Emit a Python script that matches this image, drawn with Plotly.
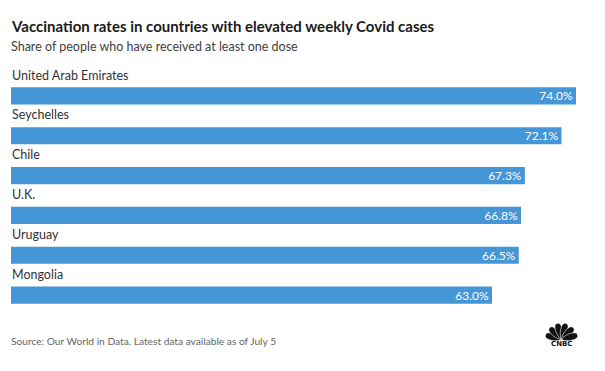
import math
import plotly.graph_objects as go

countries = ["United Arab Emirates", "Seychelles", "Chile", "U.K.", "Uruguay", "Mongolia"]
values = [74.0, 72.1, 67.3, 66.8, 66.5, 63.0]
value_labels = ["74.0%", "72.1%", "67.3%", "66.8%", "66.5%", "63.0%"]

title = "Vaccination rates in countries with elevated weekly Covid cases"
subtitle = "Share of people who have received at least one dose"
source = "Source: Our World in Data. Latest data available as of July 5"

W, H = 605, 371
L, R, T, B = 11, 15, 75.5, 55.5
PW, PH = W - L - R, H - T - B
FONT = "Lato"
BAR = "#4596d6"

idx = list(range(len(countries)))

fig = go.Figure(go.Bar(
    x=values, y=idx, orientation="h",
    marker=dict(color=BAR, line=dict(width=0)),
    width=0.43,
    text=value_labels, textposition="inside", insidetextanchor="end",
    constraintext="none",
    textfont=dict(family=FONT, size=12, color="white"),
    cliponaxis=False, hoverinfo="skip",
))

def px(x, y):
    return ((x - L) / PW, (H - B - y) / PH)

annotations = []
for i, c in enumerate(countries):
    annotations.append(dict(x=px(10, 0)[0], y=px(0, 74.5 + 40 * i)[1], xref="paper", yref="paper",
                            text=c, showarrow=False, xanchor="left", yanchor="middle",
                            font=dict(family=FONT, size=12.5, color="#333333")))

annotations += [
    dict(x=px(9, 0)[0], y=px(0, 25)[1], xref="paper", yref="paper", text="<b>" + title + "</b>",
         showarrow=False, xanchor="left", yanchor="middle",
         font=dict(family=FONT, size=15, color="#1a1a1a")),
    dict(x=px(9, 0)[0], y=px(0, 46)[1], xref="paper", yref="paper", text=subtitle,
         showarrow=False, xanchor="left", yanchor="middle",
         font=dict(family=FONT, size=12.5, color="#404040")),
    dict(x=px(9, 0)[0], y=px(0, 342)[1], xref="paper", yref="paper", text=source,
         showarrow=False, xanchor="left", yanchor="middle",
         font=dict(family=FONT, size=10.2, color="#666666")),
    dict(x=px(561.5, 0)[0], y=px(0, 344.5)[1], xref="paper", yref="paper", text="<b>CNBC</b>",
         showarrow=False, xanchor="center", yanchor="middle",
         font=dict(family="DejaVu Sans", size=7, color="#111111")),
]

shapes = []
cx, cy = 561.5, 340.0
Lp, w = 16.5, 4.6
for ang in [165, 135, 105, 75, 45, 15]:
    a = math.radians(ang)
    dx, dy = math.cos(a), -math.sin(a)
    nx, ny = -dy, dx
    p = lambda k, m: px(cx + k * Lp * dx + m * w * nx, cy + k * Lp * dy + m * w * ny)
    c0 = px(cx, cy)
    a1, a2, tip = p(0.3, 1.0), p(1.08, 1.0), p(1.0, 0)
    b1, b2 = p(1.08, -1.0), p(0.3, -1.0)
    path = (f"M {c0[0]},{c0[1]} C {a1[0]},{a1[1]} {a2[0]},{a2[1]} {tip[0]},{tip[1]} "
            f"C {b1[0]},{b1[1]} {b2[0]},{b2[1]} {c0[0]},{c0[1]} Z")
    shapes.append(dict(type="path", path=path, xref="paper", yref="paper",
                       fillcolor="#111111", line=dict(width=0.6, color="white")))

fig.update_layout(
    width=W, height=H,
    margin=dict(l=L, r=R, t=T, b=B, pad=0),
    paper_bgcolor="white", plot_bgcolor="white",
    showlegend=False,
    xaxis=dict(range=[0, PW / (565 / 74.0)], visible=False, fixedrange=True),
    yaxis=dict(range=[5.5, -0.5], visible=False, fixedrange=True),
    annotations=annotations, shapes=shapes,
)

fig.write_html("out.html", config={"displayModeBar": False},
               post_script="document.body.style.margin='0';document.body.style.overflow='hidden';")
